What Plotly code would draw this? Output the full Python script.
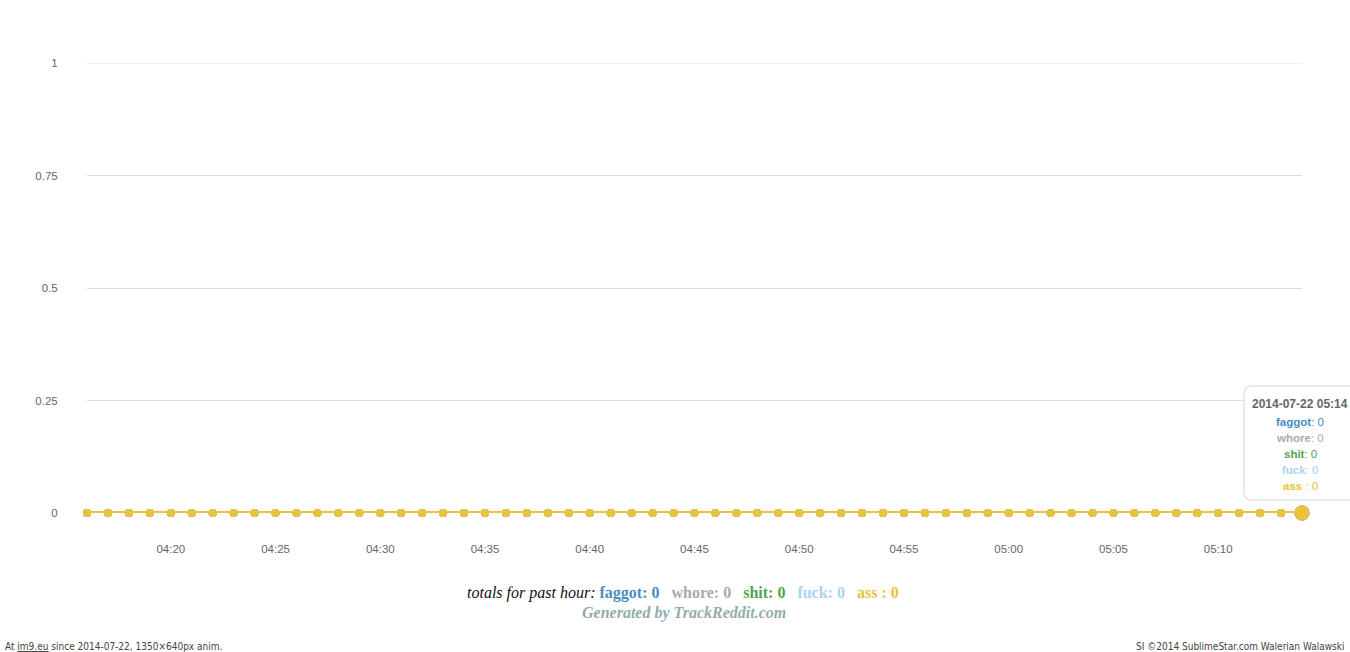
import pandas as pd
import plotly.graph_objects as go

# minute samples for the past hour
minutes = pd.date_range("2014-07-22 04:16", "2014-07-22 05:14", freq="1min")

series_names = ["faggot", "whore", "shit", "fuck", "ass"]
series_colors = ["#4a8cc4", "#aaaaaa", "#4ea64e", "#a9d3f2", "#eec13a"]
faggot = [0] * len(minutes)
whore = [0] * len(minutes)
shit = [0] * len(minutes)
fuck = [0] * len(minutes)
ass = [0] * len(minutes)
totals = [0, 0, 0, 0, 0]
y_ticks = [0, 0.25, 0.5, 0.75, 1]
y_labels = ["0", "0.25", "0.5", "0.75", "1"]

values = [faggot, whore, shit, fuck, ass]

fig = go.Figure()
for name, color, vals in zip(series_names, series_colors, values):
    sizes = [8] * (len(vals) - 1) + [15]
    fig.add_trace(go.Scatter(
        x=minutes, y=vals, name=name, mode="lines+markers",
        line=dict(color=color, width=4),
        # size array makes plotly default to 0.7 opacity, so force it
        marker=dict(color=color, size=sizes, opacity=1, line=dict(width=0)),
        cliponaxis=False, hoverinfo="skip"))

fig.update_layout(
    width=1350, height=652,
    margin=dict(l=87, r=48, t=63, b=139),
    paper_bgcolor="white", plot_bgcolor="white",
    showlegend=False,
    font=dict(family="Liberation Sans, Arial, sans-serif", size=11, color="#666666"),
)
fig.update_xaxes(
    range=[minutes[0], minutes[-1]],
    tickformat="%H:%M", dtick=5 * 60 * 1000, tick0="2014-07-22 04:20",
    showgrid=False, zeroline=False, showline=False,
    ticks="outside", ticklen=25, tickcolor="rgba(0,0,0,0)",
    tickfont=dict(size=11.5, color="#666666"),
)
fig.update_yaxes(
    range=[0, 1], tickvals=y_ticks, ticktext=y_labels,
    showgrid=True, gridcolor="#dddddd", gridwidth=1,
    zeroline=False, showline=False,
    ticks="outside", ticklen=26, tickcolor="rgba(0,0,0,0)",
    tickfont=dict(size=11.5, color="#666666"),
)
fig.add_hline(y=1, line=dict(color="#dddddd", width=1), layer="below")

# page pixel -> plot-area paper coordinates
W, H = 1215.0, 450.0
def px(x):
    return (x - 87) / W
def py(y):
    return (513 - y) / H

def note(x, y, text, font, xanchor="center"):
    fig.add_annotation(x=px(x), y=py(y), xref="paper", yref="paper",
                       xanchor=xanchor, yanchor="middle", text=text,
                       showarrow=False, font=font)

# tooltip box (static copy of the hover label at the last point)
x0, x1, y0, y1 = px(1244), px(1362), py(500), py(386)
rx, ry = 8 / W, 8 / H
path = (f"M {x0 + rx},{y1} L {x1 - rx},{y1} Q {x1},{y1} {x1},{y1 - ry} "
        f"L {x1},{y0 + ry} Q {x1},{y0} {x1 - rx},{y0} L {x0 + rx},{y0} "
        f"Q {x0},{y0} {x0},{y0 + ry} L {x0},{y1 - ry} Q {x0},{y1} {x0 + rx},{y1} Z")
fig.add_shape(type="path", path=path, xref="paper", yref="paper",
              line=dict(color="#e4e4e4", width=1.5), fillcolor="rgba(255,255,255,0.92)",
              layer="above")

note(1300, 404, "<b>" + minutes[-1].strftime("%Y-%m-%d %H:%M") + "</b>",
     dict(size=12, color="#666666"))
for i, (name, color, vals) in enumerate(zip(series_names, series_colors, values)):
    sep = " : " if name == "ass" else ": "
    note(1300, 422 + 16 * i, f"<b>{name}</b>{sep}{vals[-1]}", dict(size=11.5, color=color))

# totals line under the chart
parts = []
for name, color, tot in zip(series_names, series_colors, totals):
    sep = " : " if name == "ass" else ": "
    parts.append(f"<b><span style='color:{color}'>{name}{sep}{tot}</span></b>")
serif = "Liberation Serif, Times New Roman, serif"
note(683, 593, "<i>totals for past hour:</i> " + "&nbsp;&nbsp;&nbsp;".join(parts),
     dict(family=serif, size=16, color="#111111"))
note(684, 613, "<b><i>Generated by TrackReddit.com</i></b>",
     dict(family=serif, size=16, color="#93acac"))

# footer
small = "DejaVu Sans Condensed, DejaVu Sans, sans-serif"
note(3, 646, "At <u>im9.eu</u> since 2014-07-22, 1350×640px anim.",
     dict(family=small, size=10, color="#444444"), xanchor="left")
note(1346, 646, "SI ©2014 SublimeStar.com Walerian Walawski",
     dict(family=small, size=10, color="#444444"), xanchor="right")

# drop the default 8px body margin so the figure fills the window
fig.write_html("out.html", config={"displayModeBar": False},
               post_script="document.body.style.margin='0';")
